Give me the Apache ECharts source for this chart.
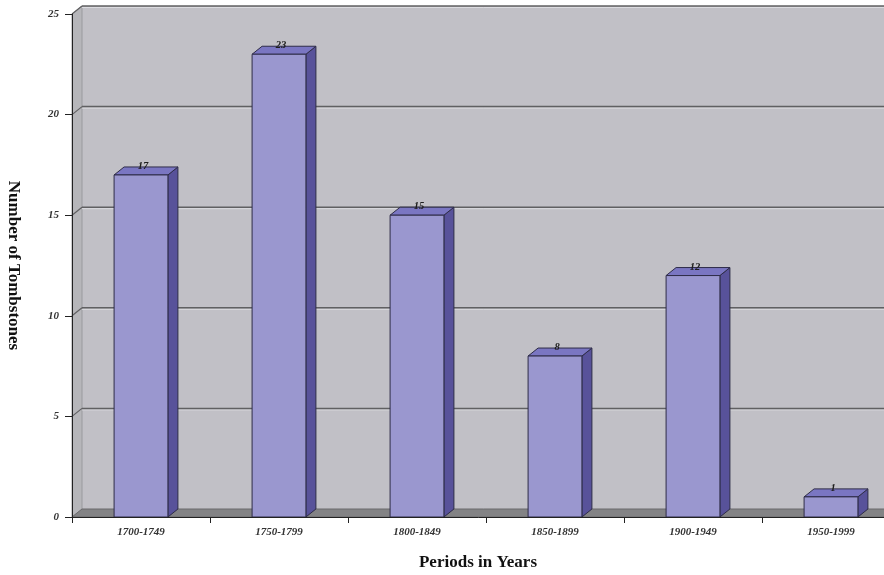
<!DOCTYPE html>
<html>
<head>
<meta charset="utf-8">
<style>
  html, body { margin: 0; padding: 0; background: #fff; }
  #chart { width: 884px; height: 575px; }
</style>
<script src="https://cdn.jsdelivr.net/npm/echarts@6/dist/echarts.min.js"></script>
</head>
<body>
<div id="chart"></div>
<script>
// Tombstones counted per fifty-year period
const categories = ['1700-1749', '1750-1799', '1800-1849', '1850-1899', '1900-1949', '1950-1999'];
const counts = [17, 23, 15, 8, 12, 1];
const yTicks = [0, 5, 10, 15, 20, 25];

// depth offset of the pseudo-3D walls and bars
const DX = 10, DY = -8;
const SERIF = '"Liberation Serif", "DejaVu Serif", serif';

const chart = echarts.init(document.getElementById('chart'));

function renderWalls(params, api) {
  const cs = params.coordSys;
  const gx = cs.x, gw = cs.width;
  const base = api.coord([0, 0])[1];
  const topY = api.coord([0, yTicks[yTicks.length - 1]])[1];
  const children = [];
  // back wall
  children.push({ type: 'rect', shape: { x: gx + DX, y: topY + DY, width: gw, height: base - topY },
    style: { fill: '#c1c0c6' } });
  // left side wall
  children.push({ type: 'polygon', shape: { points: [[gx, topY], [gx + DX, topY + DY], [gx + DX, base + DY], [gx, base]] },
    style: { fill: '#b6b6ba', stroke: '#9a9a9e', lineWidth: 1 } });
  // floor
  children.push({ type: 'polygon', shape: { points: [[gx, base], [gx + DX, base + DY], [gx + gw + DX, base + DY], [gx + gw, base]] },
    style: { fill: '#838385', stroke: '#6a6a6c', lineWidth: 1 } });
  // grid lines on the back wall and side wall
  yTicks.forEach(function (v) {
    if (v === 0) return;
    const y = api.coord([0, v])[1];
    children.push({ type: 'line', shape: { x1: gx + DX, y1: y + DY + 1.5, x2: gx + gw + DX, y2: y + DY + 1.5 },
      style: { stroke: '#dcdce0', lineWidth: 1 } });
    children.push({ type: 'line', shape: { x1: gx + DX, y1: y + DY, x2: gx + gw + DX, y2: y + DY },
      style: { stroke: '#606062', lineWidth: 1.5 } });
    children.push({ type: 'line', shape: { x1: gx, y1: y, x2: gx + DX, y2: y + DY },
      style: { stroke: '#606062', lineWidth: 1.2 } });
  });
  return { type: 'group', children: children };
}

function renderBar(params, api) {
  const cx = api.coord([api.value(0), 0])[0];
  const base = api.coord([api.value(0), 0])[1];
  const top = api.coord([api.value(0), api.value(1)])[1];
  const bw = api.size([1, 0])[0] * 0.39;
  const x0 = cx - bw / 2, x1 = cx + bw / 2;
  const edge = { stroke: '#2e2c48', lineWidth: 1 };
  return {
    type: 'group',
    children: [
      { type: 'polygon', shape: { points: [[x1, top], [x1 + DX, top + DY], [x1 + DX, base + DY], [x1, base]] },
        style: Object.assign({ fill: '#58529a' }, edge) },
      { type: 'polygon', shape: { points: [[x0, top], [x0 + DX, top + DY], [x1 + DX, top + DY], [x1, top]] },
        style: Object.assign({ fill: '#7a76c2' }, edge) },
      { type: 'rect', shape: { x: x0, y: top, width: bw, height: base - top },
        style: Object.assign({ fill: '#9a97cf' }, edge) },
      { type: 'text', style: { x: cx + 2, y: top + DY / 2 + 1, text: String(api.value(1)),
          align: 'center', verticalAlign: 'bottom',
          font: 'italic bold 10.5px ' + SERIF, fill: '#1e1e1e' } }
    ]
  };
}

chart.setOption({
  animation: false,
  grid: { left: 72, top: 14, width: 828, height: 503, containLabel: false, outerBoundsMode: 'none' },
  xAxis: {
    type: 'category',
    data: categories,
    z: 5,
    name: 'Periods in Years',
    nameLocation: 'middle',
    nameGap: 37,
    nameTextStyle: { fontFamily: SERIF, fontWeight: 'bold', fontSize: 17, color: '#111', padding: [0, 16, 0, 0] },
    axisLine: { lineStyle: { color: '#222', width: 1 } },
    axisTick: { show: true, length: 6, lineStyle: { color: '#222' } },
    axisLabel: { fontFamily: SERIF, fontStyle: 'italic', fontWeight: 'bold', fontSize: 11, color: '#333', margin: 10 },
    splitLine: { show: false }
  },
  yAxis: {
    type: 'value',
    min: 0, max: 25, interval: 5,
    z: 5,
    name: 'Number of Tombstones',
    nameLocation: 'middle',
    nameRotate: -90,
    nameGap: 50,
    nameTextStyle: { fontFamily: SERIF, fontWeight: 'bold', fontSize: 17, color: '#111' },
    axisLine: { show: true, lineStyle: { color: '#222', width: 1 } },
    axisTick: { show: true, length: 7, lineStyle: { color: '#222' } },
    axisLabel: { fontFamily: SERIF, fontStyle: 'italic', fontWeight: 'bold', fontSize: 11, color: '#333', margin: 13 },
    splitLine: { show: false }
  },
  series: [
    { type: 'custom', z: 1, silent: true, renderItem: renderWalls, data: [[0, 0]] },
    { type: 'custom', z: 2, renderItem: renderBar,
      data: counts.map(function (v, i) { return [i, v]; }) }
  ]
});
</script>
</body>
</html>
